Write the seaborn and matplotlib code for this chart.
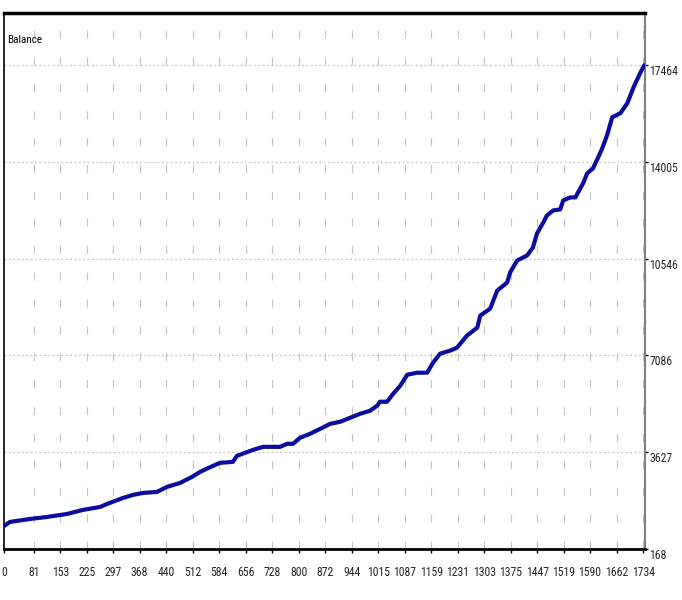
import matplotlib
matplotlib.use("Agg")
import matplotlib.pyplot as plt
import seaborn as sns
import pandas as pd

deal = [0, 16, 71, 117, 171, 214, 261, 280, 323, 350, 377, 415, 442, 478, 510, 532,
        567, 586, 621, 632, 676, 703, 749, 768, 784, 803, 830, 858, 885, 912, 939, 966,
        993, 1012, 1020, 1039, 1056, 1075, 1094, 1121, 1137, 1148, 1164, 1183, 1210, 1229,
        1256, 1284, 1292, 1319, 1338, 1365, 1373, 1392, 1419, 1435, 1446, 1463, 1473, 1490,
        1509, 1517, 1536, 1550, 1571, 1582, 1598, 1612, 1623, 1636, 1650, 1672, 1691, 1708,
        1727, 1737]
balance = [990, 1135, 1242, 1314, 1421, 1565, 1672, 1780, 1994, 2102, 2173, 2209, 2388,
           2531, 2746, 2925, 3140, 3248, 3283, 3498, 3713, 3820, 3820, 3928, 3928, 4143,
           4286, 4465, 4644, 4716, 4859, 5002, 5110, 5289, 5432, 5432, 5719, 6005, 6399,
           6471, 6471, 6471, 6829, 7151, 7258, 7366, 7796, 8082, 8512, 8762, 9407, 9693,
           10051, 10481, 10660, 10947, 11448, 11842, 12093, 12272, 12308, 12630, 12737,
           12737, 13239, 13597, 13776, 14170, 14492, 14957, 15602, 15745, 16103, 16676,
           17213, 17464]

x_ticks = [0, 81, 153, 225, 297, 368, 440, 512, 584, 656, 728, 800, 872, 944, 1015,
           1087, 1159, 1231, 1303, 1375, 1447, 1519, 1590, 1662, 1734]
y_ticks = [168, 3627, 7086, 10546, 14005, 17464]

df = pd.DataFrame({"deal": deal, "balance": balance})

sns.set_style("white")
plt.rcParams['font.family'] = ['Roboto Condensed', 'Open Sans Condensed',
                               'DejaVu Sans Condensed', 'Liberation Sans Narrow',
                               'DejaVu Sans']

fig = plt.figure(figsize=(6.82, 6.0), dpi=100)
ax = fig.add_axes([4/682, 51/600, 641/682, 536/600])

for xt in x_ticks[1:]:
    ax.axvline(xt, color='#c4c4c4', lw=0.8, ls=(0, (7.2, 17.0)), zorder=0)
for yt in y_ticks[1:]:
    ax.axhline(yt, color='#c4c4c4', lw=0.9, ls=(0, (1.5, 2)), zorder=0)

sns.lineplot(data=df, x="deal", y="balance", ax=ax, color='#0c0c9e', lw=3.0, zorder=3)

ax.set_xlim(0, 1739)
ax.set_ylim(168, 19330)
ax.set_xticks(x_ticks)
ax.set_xticklabels([str(v) for v in x_ticks])
ax.set_yticks(y_ticks)
ax.set_yticklabels([str(v) for v in y_ticks])
ax.yaxis.tick_right()
ax.tick_params(axis='x', direction='out', length=3, width=1, pad=9, labelsize=8.5,
               color='black', bottom=True)
ax.tick_params(axis='y', direction='out', length=2, width=1, pad=1, labelsize=8.5,
               color='black', right=True, left=False)
for lbl in ax.get_yticklabels():
    lbl.set_verticalalignment('top')
ax.set_xlabel("")
ax.set_ylabel("")

ax.spines['top'].set_linewidth(2.5)
ax.spines['top'].set_color('black')
ax.spines['bottom'].set_linewidth(2.0)
ax.spines['bottom'].set_color('black')
ax.spines['left'].set_linewidth(1.2)
ax.spines['left'].set_color('black')
ax.spines['right'].set_linewidth(1.5)
ax.spines['right'].set_color('#808080')
for s in ax.spines.values():
    s.set_visible(True)

ax.text(3/641, 1 - 27/536, "Balance", transform=ax.transAxes, fontsize=8,
        ha='left', va='center', color='black')

fig.savefig("out.png", dpi=100)
